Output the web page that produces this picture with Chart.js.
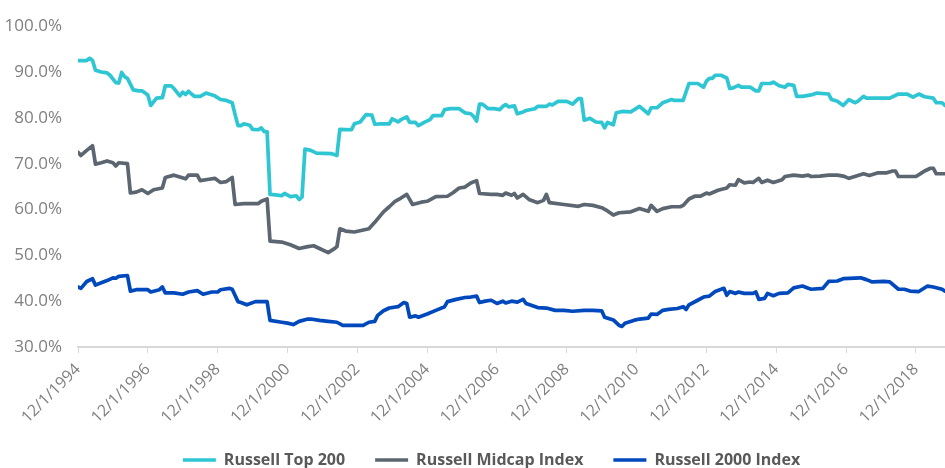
<!DOCTYPE html>
<html><head><meta charset="utf-8">
<script src="https://cdn.jsdelivr.net/npm/chart.js@4"></script>
<style>html,body{margin:0;padding:0;background:#fff}#wrap{width:945px;height:468px}</style>
</head><body><div id="wrap"><canvas id="c" width="945" height="468"></canvas></div>
<script>
// x values: months elapsed since 12/1/1994
const seriesNames = ['Russell Top 200', 'Russell Midcap Index', 'Russell 2000 Index'];
const tickYears = [1994, 1996, 1998, 2000, 2002, 2004, 2006, 2008, 2010, 2012, 2014, 2016, 2018];

const top200Months = [0,3,4,5,6,8,10,11,13,14,15,16,17,19,21,22,24,25,27,29,30,32,33,35,36,37,38,39,40,42,44,45,47,49,51,53,54,55,56,57,59,60,62,63,64,65,66,68,70,71,73,75,76,77,78,80,82,87,89,90,94,95,97,99,101,102,104,107,108,110,111,113,114,116,117,119,121,122,125,126,128,131,133,135,136,137,138,139,141,143,145,146,147,148,150,151,153,154,157,158,161,162,163,165,168,170,172,173,174,176,178,180,181,182,184,185,187,190,193,196,197,199,201,204,205,208,210,213,215,216,217,218,219,221,223,224,225,227,228,231,233,234,235,238,239,241,243,244,246,247,249,252,254,258,259,261,263,265,267,268,270,271,279,282,285,287,289,291,294,295,297,298];
const top200Values = [92.5,92.5,93.0,92.5,90.4,90.0,89.8,89.3,87.7,87.6,89.9,89.0,88.6,86.1,85.9,85.9,85.0,82.7,84.3,84.4,87.0,87.0,86.4,84.8,85.6,85.1,85.8,85.2,84.7,84.7,85.4,85.2,84.8,84.0,83.8,83.3,80.7,78.3,78.3,78.7,78.4,77.5,77.4,77.8,77.0,77.0,63.3,63.2,63.0,63.5,62.8,63.0,62.2,62.7,73.2,72.9,72.3,72.2,71.8,77.5,77.4,78.7,79.1,80.7,80.6,78.6,78.7,78.7,79.8,79.1,79.6,80.2,79.0,79.0,78.3,79.0,79.6,80.5,80.5,81.8,82.0,82.0,81.1,80.9,80.3,79.3,83.0,83.0,82.0,82.0,81.8,82.5,82.9,82.4,82.6,80.9,81.3,81.6,82.0,82.5,82.5,83.0,82.8,83.6,83.6,83.0,84.2,84.2,79.5,79.9,79.1,79.0,77.8,79.0,78.5,81.1,81.4,81.3,82.5,80.9,82.2,82.2,83.3,84.0,83.8,83.8,87.5,87.5,86.7,88.0,88.6,88.6,89.3,89.3,88.7,86.4,86.5,87.1,86.7,86.7,85.9,85.9,87.5,87.5,87.8,87.0,86.7,87.3,87.1,84.7,84.7,85.0,85.4,85.2,84.0,83.6,82.7,84.0,83.3,83.6,84.7,84.3,84.3,85.2,85.2,84.5,85.2,84.6,84.3,83.3,83.3,82.7];

const midcapMonths = [0,1,3,5,6,8,10,12,13,14,17,18,20,22,24,26,29,30,33,35,37,38,41,42,45,47,49,51,53,54,57,62,63,65,66,70,73,76,79,81,83,86,88,89,90,92,95,100,102,105,107,109,111,113,115,118,120,123,127,129,131,133,135,137,138,142,144,146,147,149,150,151,153,155,158,160,161,162,167,172,174,177,180,182,184,186,190,193,196,197,199,201,204,207,208,210,212,214,216,217,220,223,224,226,227,229,231,232,234,235,237,239,242,243,246,249,251,252,255,258,261,263,265,267,270,272,275,278,280,281,282,288,290,291,293,294,295,298];
const midcapValues = [72.5,71.8,72.9,73.9,69.9,70.2,70.6,70.2,69.5,70.2,70.0,63.6,63.8,64.3,63.5,64.3,64.7,67.0,67.5,67.1,66.7,67.5,67.5,66.3,66.6,66.8,65.9,66.1,67.0,61.1,61.3,61.3,61.8,62.3,53.1,52.9,52.3,51.5,51.9,52.1,51.5,50.6,51.4,51.9,55.8,55.3,55.1,55.8,57.2,59.5,60.6,61.8,62.5,63.3,61.1,61.6,61.8,62.8,62.9,63.7,64.7,64.9,65.8,66.3,63.5,63.3,63.3,63.1,63.6,63.1,63.5,62.5,63.3,62.2,61.5,62.0,63.3,61.5,61.1,60.7,61.1,60.9,60.4,59.7,58.8,59.3,59.5,60.2,59.6,60.9,59.6,60.2,60.6,60.6,60.9,62.3,62.9,62.9,63.6,63.4,64.2,64.7,65.4,65.3,66.5,65.8,66.0,65.9,66.8,65.9,66.4,65.9,66.5,67.2,67.5,67.3,67.5,67.2,67.3,67.5,67.5,67.3,66.8,67.2,67.8,67.4,68.0,68.0,68.4,68.4,67.2,67.2,68.0,68.4,69.0,69.0,67.8,67.8];

const r2000Months = [0,1,3,5,6,8,10,12,13,14,17,18,20,24,25,28,29,30,33,36,38,41,43,46,48,49,52,53,55,56,58,61,65,66,70,72,74,76,79,80,83,86,89,91,98,100,102,103,105,107,110,112,113,114,116,117,120,123,126,127,130,133,135,137,138,140,142,144,146,147,149,151,153,154,158,161,164,167,170,174,177,180,181,184,186,187,188,191,193,196,197,199,201,203,206,208,209,210,213,215,217,219,222,223,224,226,227,229,232,233,234,236,237,239,241,244,246,249,251,252,256,258,261,263,269,271,273,277,279,282,284,286,289,292,294,297,298];
const r2000Values = [43.1,42.8,44.3,44.9,43.5,44.0,44.5,45.1,45.0,45.4,45.6,42.2,42.5,42.5,42.0,42.5,43.1,41.8,41.8,41.5,42.0,42.3,41.5,42.0,42.0,42.5,42.8,42.6,39.9,39.7,39.2,39.9,39.9,35.8,35.4,35.2,34.9,35.6,36.1,36.1,35.8,35.6,35.4,34.7,34.7,35.4,35.6,36.9,37.9,38.5,38.8,39.7,39.5,36.5,36.8,36.5,37.2,38.0,38.8,39.9,40.4,40.8,40.9,41.1,39.7,40.0,40.2,39.5,40.0,39.6,40.0,39.8,40.4,39.5,38.6,38.5,38.0,38.0,37.8,38.0,38.0,37.9,36.5,35.9,34.7,34.5,35.2,35.8,36.1,36.3,37.2,37.1,38.0,38.2,38.4,38.8,38.2,39.2,40.2,40.9,41.1,42.1,42.8,41.3,42.1,41.7,42.0,41.7,41.7,42.0,40.4,40.6,41.7,41.2,41.7,41.8,42.9,43.3,42.8,42.6,42.8,44.3,44.4,44.9,45.1,44.7,44.2,44.3,44.2,42.6,42.6,42.2,42.1,43.3,43.1,42.6,42.2];

const colors = ['#2fc6d3', '#5b6670', '#0049bd'];
const toPoints = (months, values) => months.map((m, i) => ({x: m, y: values[i]}));

// nudge the centred legend to the right, as in the reference
const legendShift = {
  id: 'legendShift',
  afterLayout(chart) {
    if (chart.legend) { chart.legend.left += 19; chart.legend.right += 19; }
  }
};

const font = 'Open Sans';
new Chart(document.getElementById('c'), {
  type: 'line',
  plugins: [legendShift],
  data: {
    datasets: [
      {label: seriesNames[0], data: toPoints(top200Months, top200Values)},
      {label: seriesNames[1], data: toPoints(midcapMonths, midcapValues)},
      {label: seriesNames[2], data: toPoints(r2000Months, r2000Values)}
    ].map((d, i) => Object.assign(d, {
      borderColor: colors[i], backgroundColor: colors[i], borderWidth: 3.7,
      pointRadius: 0, tension: 0, fill: false, borderJoinStyle: 'round', borderCapStyle: 'round'
    }))
  },
  options: {
    responsive: false, animation: false,
    layout: {padding: {top: 20, right: 0, left: 0, bottom: -10}},
    plugins: {
      tooltip: {enabled: false},
      legend: {
        position: 'bottom',
        labels: {
          usePointStyle: true, pointStyle: 'line', pointStyleWidth: 33,
          padding: 30, color: '#595959',
          font: {family: font, size: 16, weight: 'bold'}
        }
      }
    },
    scales: {
      x: {
        type: 'linear', min: 0, max: 298,
        grid: {display: true, drawOnChartArea: false, drawTicks: true, tickLength: 6, color: '#d9d9d9', lineWidth: 1},
        border: {display: true, color: '#d9d9d9', width: 2},
        ticks: {
          stepSize: 24, includeBounds: false, autoSkip: false, minRotation: 45, maxRotation: 45, padding: 7,
          color: '#808080', font: {family: font, size: 16},
          callback: v => (v % 24 === 0 && tickYears.includes(1994 + v / 12)) ? '12/1/' + (1994 + v / 12) : ''
        },
        afterFit: s => { s.height = 75; }
      },
      y: {
        min: 30, max: 100,
        grid: {display: false, drawTicks: false},
        border: {display: false},
        ticks: {stepSize: 10, padding: 16, color: '#808080', font: {family: font, size: 17},
          callback: v => v.toFixed(1) + '%'},
        afterFit: s => { s.width = 78; }
      }
    }
  }
});
</script></body></html>
